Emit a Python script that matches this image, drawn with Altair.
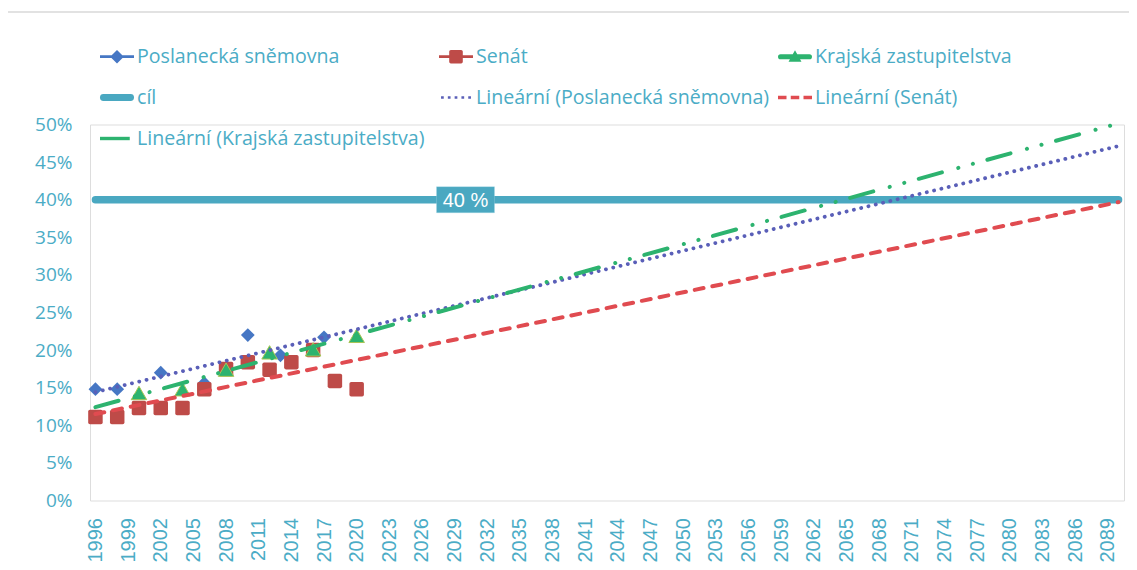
import altair as alt
import pandas as pd

# ---------------- data ----------------
years_ps = [1996, 1998, 2002, 2006, 2010, 2013, 2017]
vals_ps = [14.8, 14.8, 17.0, 15.6, 22.0, 19.3, 21.7]

years_sen = [1996, 1998, 2000, 2002, 2004, 2006, 2008, 2010, 2012, 2014, 2016, 2018, 2020]
vals_sen = [11.1, 11.1, 12.3, 12.3, 12.3, 14.8, 17.5, 18.4, 17.4, 18.4, 20.0, 15.9, 14.8]

years_kz = [2000, 2004, 2008, 2012, 2016, 2020]
vals_kz = [14.3, 14.8, 17.4, 19.7, 20.1, 21.9]

years_cil = [1996, 2090]
vals_cil = [40, 40]

label_years = [2030]
label_vals = [40]
label_texts = ["40 %"]

trend_extent = [1996, 2090]

x_ticks = [1996, 1999, 2002, 2005, 2008, 2011, 2014, 2017, 2020, 2023, 2026, 2029,
           2032, 2035, 2038, 2041, 2044, 2047, 2050, 2053, 2056, 2059, 2062, 2065,
           2068, 2071, 2074, 2077, 2080, 2083, 2086, 2089]
y_ticks = [0, 5, 10, 15, 20, 25, 30, 35, 40, 45, 50]

legend_names = [
    "Poslanecká sněmovna", "Senát", "Krajská zastupitelstva",
    "cíl", "Lineární (Poslanecká sněmovna)", "Lineární (Senát)",
    "Lineární (Krajská zastupitelstva)",
]

# ---------------- styles ----------------
TEAL = "#4BACC6"
BLUE = "#4677C4"
RED = "#BE4B48"
GREEN = "#2DB36F"
CIL = "#4AA8C1"
TR_BLUE = "#5A5FB8"
TR_RED = "#E04B50"

legend_colors = [BLUE, RED, GREEN, CIL, TR_BLUE, TR_RED, GREEN]
legend_paths = [
    "M-1,-0.08L1,-0.08L1,0.08L-1,0.08Z M0,-0.4L0.4,0L0,0.4L-0.4,0Z",
    "M-1,-0.08L1,-0.08L1,0.08L-1,0.08Z M-0.3,-0.4L0.3,-0.4Q0.4,-0.4,0.4,-0.3L0.4,0.3Q0.4,0.4,0.3,0.4L-0.3,0.4Q-0.4,0.4,-0.4,0.3L-0.4,-0.3Q-0.4,-0.4,-0.3,-0.4Z",
    "M-0.85,-0.15L0.85,-0.15Q1,-0.15,1,0Q1,0.15,0.85,0.15L-0.85,0.15Q-1,0.15,-1,0Q-1,-0.15,-0.85,-0.15Z M0,-0.38L0.38,0.3L-0.38,0.3Z",
    "M-0.8,-0.2L0.8,-0.2Q1,-0.2,1,0Q1,0.2,0.8,0.2L-0.8,0.2Q-1,0.2,-1,0Q-1,-0.2,-0.8,-0.2Z",
    "M-0.88,-0.08L-0.72,-0.08L-0.72,0.08L-0.88,0.08Z M-0.48,-0.08L-0.32,-0.08L-0.32,0.08L-0.48,0.08Z M-0.08,-0.08L0.08,-0.08L0.08,0.08L-0.08,0.08Z M0.32,-0.08L0.48,-0.08L0.48,0.08L0.32,0.08Z M0.72,-0.08L0.88,-0.08L0.88,0.08L0.72,0.08Z",
    "M-1,-0.1L-0.5,-0.1L-0.5,0.1L-1,0.1Z M-0.25,-0.1L0.25,-0.1L0.25,0.1L-0.25,0.1Z M0.5,-0.1L1,-0.1L1,0.1L0.5,0.1Z",
    "M-1,-0.1L0.75,-0.1L0.75,0.1L-1,0.1Z",
]

ROUND_SQ = "M-0.75,-1L0.75,-1Q1,-1,1,-0.75L1,0.75Q1,1,0.75,1L-0.75,1Q-1,1,-1,0.75L-1,-0.75Q-1,-1,-0.75,-1Z"
BOX = "M-1,-0.45L1,-0.45L1,0.45L-1,0.45Z"

X = alt.X(
    "year:Q",
    scale=alt.Scale(domain=[1995.5, 2090.5], nice=False, zero=False),
    axis=alt.Axis(values=x_ticks, format="d", labelAngle=-90, labelFont="Liberation Sans",
                  labelFontSize=20, labelColor=TEAL, labelPadding=17, domain=False,
                  ticks=False, grid=False, title=None, labelOverlap=False,
                  labelBound=False, labelFlush=False),
)
Y = alt.Y(
    "value:Q",
    scale=alt.Scale(domain=[0, 50], nice=False, zero=True),
    axis=alt.Axis(values=y_ticks, labelExpr="datum.value + '%'", labelFont="Open Sans",
                  labelFontSize=19, labelColor=TEAL, labelPadding=18, domain=False,
                  ticks=False, grid=False, title=None),
)

df_ps = pd.DataFrame({"year": years_ps, "value": vals_ps})
df_sen = pd.DataFrame({"year": years_sen, "value": vals_sen})
df_kz = pd.DataFrame({"year": years_kz, "value": vals_kz})
df_cil = pd.DataFrame({"year": years_cil, "value": vals_cil})
df_lab = pd.DataFrame({"year": label_years, "value": label_vals, "text": label_texts})
df_leg = pd.DataFrame({"series": legend_names})
df_one = pd.DataFrame({"a": [0]})

W, H = 1034, 376

# chart border (its right and bottom edges fall outside the visible page)
frame = alt.Chart(df_one).mark_rect(fill=None, stroke="#D9D9D9", strokeWidth=1.5).encode(
    x=alt.value(-83), x2=alt.value(W + 40), y=alt.value(-112.5), y2=alt.value(H + 100))

cil_line = alt.Chart(df_cil).mark_line(color=CIL, strokeWidth=7.5, strokeCap="round").encode(x=X, y=Y)
lab_box = alt.Chart(df_lab).mark_point(shape=BOX, size=3364, filled=True, fill=CIL, opacity=1,
                                       stroke="#A9D8E6", strokeWidth=0.3).encode(x=X, y=Y)
lab_text = alt.Chart(df_lab).mark_text(color="white", font="Liberation Sans", fontSize=20,
                                       align="center", baseline="middle", dy=1).encode(
    x=X, y=Y, text="text:N")

pts_ps = alt.Chart(df_ps).mark_point(shape="diamond", size=190, filled=True, fill=BLUE,
                                     opacity=1, strokeWidth=0).encode(x=X, y=Y)
pts_sen = alt.Chart(df_sen).mark_point(shape=ROUND_SQ, size=210, filled=True, fill=RED,
                                       opacity=1, strokeWidth=0).encode(x=X, y=Y)
pts_kz = alt.Chart(df_kz).mark_point(shape="triangle-up", size=240, filled=True, fill=GREEN,
                                     opacity=1, stroke="#A8C455", strokeWidth=1).encode(x=X, y=Y)

tr_ps = alt.Chart(df_ps).transform_regression("year", "value", extent=trend_extent).mark_line(
    color=TR_BLUE, strokeWidth=3.8, strokeCap="round", strokeDash=[0.1, 7.4]).encode(x=X, y=Y)
tr_sen = alt.Chart(df_sen).transform_regression("year", "value", extent=trend_extent).mark_line(
    color=TR_RED, strokeWidth=4, strokeCap="round", strokeDash=[9, 9]).encode(x=X, y=Y)
tr_kz = alt.Chart(df_kz).transform_regression("year", "value", extent=trend_extent).mark_line(
    color=GREEN, strokeWidth=4, strokeCap="round", strokeDash=[24, 17, 0.1, 15, 0.1, 15]).encode(x=X, y=Y)

leg_common = dict(orient="none", direction="horizontal", legendX=10, legendY=-85, columns=3,
                  gridAlign="all", columnPadding=8, rowPadding=14, symbolSize=1156,
                  symbolStrokeWidth=0, labelFont="Open Sans", labelFontSize=19.6,
                  labelColor=TEAL, labelOffset=3, padding=0, labelLimit=500, title=None,
                  symbolOpacity=1)

legend_layer = alt.Chart(df_leg).transform_filter("false").mark_point(filled=True, opacity=1).encode(
    color=alt.Color("series:N", scale=alt.Scale(domain=legend_names, range=legend_colors),
                    legend=alt.Legend(**leg_common)),
    shape=alt.Shape("series:N", scale=alt.Scale(domain=legend_names, range=legend_paths),
                    legend=alt.Legend(**leg_common)),
)

chart = alt.layer(
    frame,
    cil_line, lab_box, lab_text,
    pts_ps, pts_sen, pts_kz,
    tr_ps, tr_sen, tr_kz,
    legend_layer,
).properties(
    width=W, height=H,
    autosize=alt.AutoSizeParams(type="none"),
    padding={"left": 82, "top": 116.5, "right": 5, "bottom": 62},
).configure_view(stroke=None).configure(background="white")

chart.save("out.html", embed_options={"renderer": "svg", "actions": False})
